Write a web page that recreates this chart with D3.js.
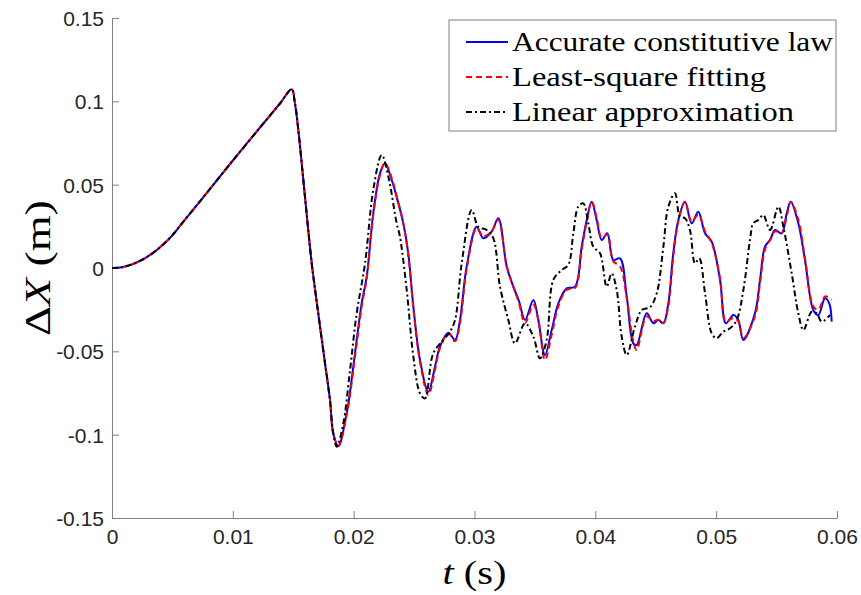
<!DOCTYPE html>
<html>
<head>
  <title>Delta X response</title>
  <script src="https://d3js.org/d3.v7.min.js"></script>
  <style>
    body {
      margin: 0;
      background: #ffffff;
    }
  </style>
</head>
<body>

  <div id="chart"></div>

  <script>
    // time (s) and displacement (m)
    let rampT = [0, 0.00083, 0.00166, 0.00248, 0.00331, 0.00414, 0.00497, 0.00579, 0.00728, 0.00977, 0.01225, 0.0139, 0.01487];
    let rampX = [0, 0.0005, 0.0022, 0.0049, 0.0086, 0.0135, 0.0194, 0.0268, 0.0400, 0.0624, 0.0843, 0.0987, 0.1072];

    let accurateT = rampT.concat([0.01514, 0.01542, 0.01597, 0.01653, 0.01707, 0.01763, 0.01804, 0.01831, 0.01873, 0.01942, 0.02011, 0.02066, 0.02108, 0.02162, 0.02218, 0.02259, 0.02315, 0.02356, 0.02411, 0.02452, 0.02494, 0.02549, 0.02618, 0.02673, 0.02714, 0.02783, 0.02839, 0.0288, 0.02935, 0.03018, 0.03073, 0.03142, 0.03197, 0.03267, 0.03321, 0.03368, 0.03418, 0.03487, 0.03528, 0.03583, 0.03639, 0.03694, 0.03763, 0.03832, 0.03887, 0.03929, 0.0397, 0.04011, 0.04053, 0.04099, 0.04149, 0.04204, 0.0426, 0.04314, 0.04342, 0.04425, 0.0448, 0.04521, 0.04563, 0.04604, 0.04645, 0.04687, 0.04742, 0.04797, 0.04852, 0.04908, 0.04963, 0.05032, 0.05081, 0.05142, 0.05183, 0.05225, 0.05321, 0.05363, 0.05404, 0.05446, 0.05487, 0.05542, 0.05584, 0.05617, 0.0568, 0.05735, 0.05804, 0.05845, 0.05901, 0.05936, 0.05956]);
    let accurateX = rampX.concat([0.0988, 0.0828, 0.0428, 0.0028, -0.0272, -0.0572, -0.0792, -0.0992, -0.1068, -0.0872, -0.0512, -0.0212, -0.0052, 0.0328, 0.0568, 0.0628, 0.0528, 0.0426, 0.0268, 0.0088, -0.0232, -0.0552, -0.0742, -0.0592, -0.0472, -0.0388, -0.0432, -0.0312, 0.0008, 0.0248, 0.0178, 0.0218, 0.0298, 0.0008, -0.0112, -0.0198, -0.0312, -0.0192, -0.0312, -0.0522, -0.0372, -0.0212, -0.0122, -0.0112, 0.0128, 0.0288, 0.0398, 0.0288, 0.0168, 0.0208, 0.0048, 0.0058, -0.0172, -0.0452, -0.0462, -0.0272, -0.0332, -0.0312, -0.0332, -0.0212, 0.0088, 0.0288, 0.0398, 0.0268, 0.0338, 0.0208, 0.0158, -0.0072, -0.0332, -0.0282, -0.0312, -0.0432, -0.0272, -0.0072, 0.0128, 0.0168, 0.0228, 0.0208, 0.0328, 0.0398, 0.0268, 0.0048, -0.0252, -0.0282, -0.0182, -0.0212, -0.0322]);

    let fittingT = accurateT;
    let fittingX = rampX.concat([0.0988, 0.0828, 0.0428, 0.0028, -0.0272, -0.0572, -0.0792, -0.0992, -0.1068, -0.0882, -0.0532, -0.0232, -0.0062, 0.0318, 0.0558, 0.0630, 0.0540, 0.0430, 0.0268, 0.0078, -0.0242, -0.0562, -0.0762, -0.0612, -0.0482, -0.0392, -0.0440, -0.0330, -0.0010, 0.0238, 0.0190, 0.0220, 0.0290, 0.0010, -0.0110, -0.0210, -0.0330, -0.0220, -0.0310, -0.0552, -0.0400, -0.0230, -0.0130, -0.0120, 0.0110, 0.0280, 0.0398, 0.0300, 0.0180, 0.0200, 0.0040, 0.0010, -0.0180, -0.0440, -0.0492, -0.0290, -0.0320, -0.0310, -0.0330, -0.0230, 0.0070, 0.0280, 0.0398, 0.0280, 0.0320, 0.0220, 0.0150, -0.0060, -0.0320, -0.0300, -0.0320, -0.0420, -0.0290, -0.0090, 0.0110, 0.0170, 0.0220, 0.0210, 0.0310, 0.0398, 0.0290, 0.0060, -0.0230, -0.0250, -0.0170, -0.0180, -0.0190]);

    let linearT = rampT.concat([0.01514, 0.01542, 0.01597, 0.01653, 0.01707, 0.01763, 0.01804, 0.01831, 0.0186, 0.01912, 0.0197, 0.02025, 0.02094, 0.02162, 0.02232, 0.02287, 0.02356, 0.02383, 0.02439, 0.02494, 0.02549, 0.0259, 0.02659, 0.02742, 0.02797, 0.02839, 0.02894, 0.02977, 0.03031, 0.03101, 0.03156, 0.03211, 0.0328, 0.03335, 0.03418, 0.03487, 0.03542, 0.03597, 0.03652, 0.03722, 0.03776, 0.03818, 0.03859, 0.039, 0.03942, 0.03983, 0.04039, 0.04094, 0.04135, 0.04177, 0.04218, 0.0426, 0.04328, 0.04384, 0.04453, 0.04508, 0.04563, 0.04604, 0.04659, 0.047, 0.04742, 0.04783, 0.04825, 0.0486, 0.04908, 0.04963, 0.05004, 0.05059, 0.05114, 0.0517, 0.05225, 0.0528, 0.05307, 0.05349, 0.0539, 0.05446, 0.05515, 0.05556, 0.05625, 0.0568, 0.05722, 0.05791, 0.05832, 0.05873, 0.05942]);
    let linearX = rampX.concat([0.0988, 0.0828, 0.0428, 0.0028, -0.0272, -0.0572, -0.0792, -0.0992, -0.1072, -0.0942, -0.0612, -0.0272, 0.0028, 0.0468, 0.0678, 0.0548, 0.0268, 0.0188, -0.0132, -0.0532, -0.0752, -0.0782, -0.0512, -0.0432, -0.0382, -0.0312, 0.0028, 0.0348, 0.0248, 0.0228, 0.0178, -0.0112, -0.0312, -0.0452, -0.0332, -0.0412, -0.0542, -0.0432, -0.0072, -0.0012, 0.0018, 0.0208, 0.0368, 0.0388, 0.0268, 0.0128, 0.0088, -0.0112, -0.0032, -0.0132, -0.0412, -0.0522, -0.0352, -0.0252, -0.0234, -0.0152, 0.0128, 0.0368, 0.0448, 0.0308, 0.0298, 0.0228, 0.0028, 0.0058, -0.0152, -0.0392, -0.0422, -0.0382, -0.0362, -0.0312, -0.0132, 0.0168, 0.0268, 0.0288, 0.0318, 0.0228, 0.0368, 0.0248, -0.0032, -0.0272, -0.0372, -0.0262, -0.0272, -0.0322, -0.0282]);

    let xTicks = [0, 0.01, 0.02, 0.03, 0.04, 0.05, 0.06];
    let yTicks = [-0.15, -0.1, -0.05, 0, 0.05, 0.1, 0.15];
    let seriesNames = ['Accurate constitutive law', 'Least-square fitting', 'Linear approximation'];

    let width = 861;
    let height = 595;
    let margin = { top: 18, right: 24, bottom: 77, left: 112 };
    let innerW = width - margin.left - margin.right;
    let innerH = height - margin.top - margin.bottom;

    let svg = d3.select('#chart')
      .append('svg')
      .attr('width', width)
      .attr('height', height);

    let g = svg.append('g')
      .attr('transform', 'translate(' + margin.left + ',' + margin.top + ')');

    let xScale = d3.scaleLinear().domain([0, 0.06]).range([0, innerW]);
    let yScale = d3.scaleLinear().domain([-0.15, 0.15]).range([innerH, 0]);

    let tickFmt = d => d === 0 ? '0' : String(d);
    let axisColor = '#808080';

    let xAxis = g.append('g')
      .attr('transform', 'translate(0,' + innerH + ')')
      .call(d3.axisBottom(xScale).tickValues(xTicks).tickFormat(tickFmt).tickSizeInner(-7).tickSizeOuter(0).tickPadding(11));

    let yAxis = g.append('g')
      .call(d3.axisLeft(yScale).tickValues(yTicks).tickFormat(tickFmt).tickSizeInner(-7).tickSizeOuter(0).tickPadding(8));

    [xAxis, yAxis].forEach(a => {
      a.select('.domain').attr('stroke', axisColor).attr('stroke-width', 1);
      a.selectAll('.tick line').attr('stroke', axisColor).attr('stroke-width', 1);
      a.selectAll('.tick text')
        .attr('fill', '#262626')
        .style('font-family', "'Liberation Sans', Arial, sans-serif")
        .style('font-size', '21px');
    });
    yAxis.selectAll('.tick text').attr('dy', '0.35em');

    // series lines
    let series = [
      { t: accurateT, v: accurateX, color: '#0000ff', dash: null, width: 2 },
      { t: fittingT, v: fittingX, color: '#ff0000', dash: '6,4', width: 2 },
      { t: linearT, v: linearX, color: '#000000', dash: '6,3,2,3', width: 2 }
    ];

    let line = d3.line()
      .x(d => xScale(d[0]))
      .y(d => yScale(d[1]))
      .curve(d3.curveCatmullRom.alpha(0.5));

    series.forEach(s => {
      let pts = s.t.map((t, i) => [t, s.v[i]]);
      g.append('path')
        .datum(pts)
        .attr('d', line)
        .attr('fill', 'none')
        .attr('stroke', s.color)
        .attr('stroke-width', s.width)
        .attr('stroke-dasharray', s.dash)
        .attr('stroke-linejoin', 'round');
    });

    // axis labels
    let yLabel = svg.append('text')
      .attr('transform', 'translate(50,' + (margin.top + innerH / 2) + ') rotate(-90)')
      .attr('text-anchor', 'middle')
      .attr('textLength', 136)
      .attr('lengthAdjust', 'spacingAndGlyphs')
      .style('font-family', "'Liberation Serif', 'DejaVu Serif', serif")
      .style('font-size', '35px')
      .attr('fill', '#000');
    yLabel.append('tspan').text('\u0394');
    yLabel.append('tspan').style('font-style', 'italic').text('X');
    yLabel.append('tspan').text(' (m)');

    let xLabel = svg.append('text')
      .attr('x', margin.left + innerW / 2)
      .attr('y', 584)
      .attr('text-anchor', 'middle')
      .attr('textLength', 64)
      .attr('lengthAdjust', 'spacingAndGlyphs')
      .style('font-family', "'Liberation Serif', 'DejaVu Serif', serif")
      .style('font-size', '34px')
      .attr('fill', '#000');
    xLabel.append('tspan').style('font-style', 'italic').text('t');
    xLabel.append('tspan').text(' (s)');

    // legend
    let legend = svg.append('g').attr('transform', 'translate(449,20)');
    legend.append('rect')
      .attr('width', 387)
      .attr('height', 111)
      .attr('fill', '#ffffff')
      .attr('stroke', axisColor)
      .attr('stroke-width', 1);

    let legendLengths = [321, 254, 282];
    seriesNames.forEach((name, i) => {
      let y = 22 + i * 35;
      legend.append('line')
        .attr('x1', 17).attr('x2', 59)
        .attr('y1', y).attr('y2', y)
        .attr('stroke', series[i].color)
        .attr('stroke-width', 2)
        .attr('stroke-dasharray', series[i].dash);
      legend.append('text')
        .attr('x', 63)
        .attr('y', y + 9)
        .attr('textLength', legendLengths[i])
        .attr('lengthAdjust', 'spacingAndGlyphs')
        .style('font-family', "'Liberation Serif', 'DejaVu Serif', serif")
        .style('font-size', '27px')
        .attr('fill', '#000')
        .text(name);
    });
  </script>
</body>
</html>
